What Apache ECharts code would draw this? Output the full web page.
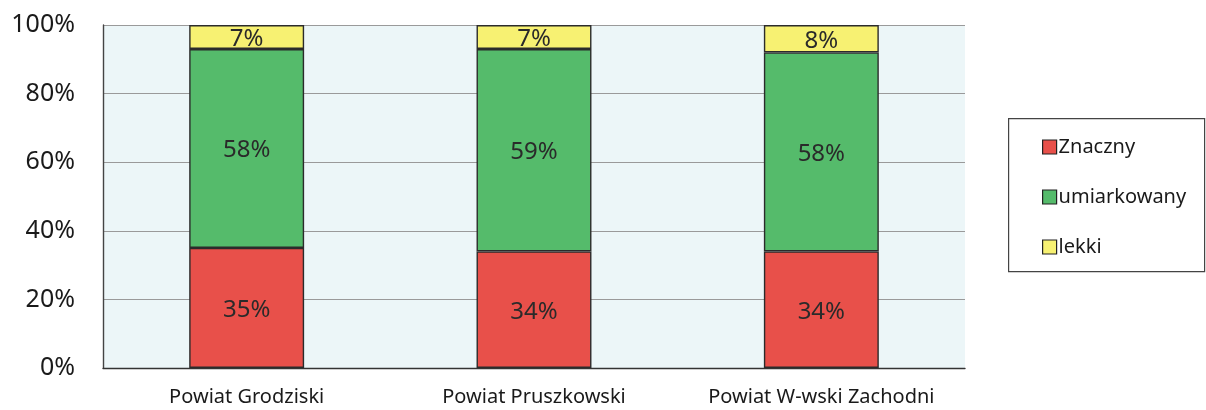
<!DOCTYPE html>
<html>
<head>
<meta charset="utf-8">
<script src="https://cdn.jsdelivr.net/npm/echarts@6/dist/echarts.min.js"></script>
<style>
html,body{margin:0;padding:0;background:#fff;}
#c{width:1206px;height:410px;}
</style>
</head>
<body>
<div id="c"></div>
<script>
const categories = ['Powiat Grodziski', 'Powiat Pruszkowski', 'Powiat W-wski Zachodni'];
const znaczny = [35, 34, 34];
const umiarkowany = [58, 59, 58];
const lekki = [7, 7, 8];
const yTicks = ['0%', '20%', '40%', '60%', '80%', '100%'];

const FONT = '"Noto Sans", "Open Sans", sans-serif';
const chart = echarts.init(document.getElementById('c'), null, {renderer: 'canvas'});

function series(name, data, color) {
  return {
    name: name, type: 'bar', stack: 'total', data: data, barWidth: '40%',
    itemStyle: {color: color, borderColor: '#2b2b2b', borderWidth: 1.4},
    label: {show: true, position: 'inside', formatter: '{c}%', fontFamily: FONT, fontSize: 24, color: '#2a2a2a', offset: [0, 2]}
  };
}

chart.setOption({
  backgroundColor: '#ffffff',
  animation: false,
  grid: {left: 103, right: 241, top: 25, bottom: 42, show: true, backgroundColor: '#ecf6f8', borderWidth: 0},
  graphic: [{
    type: 'rect', left: 1008, top: 118,
    shape: {width: 196, height: 153},
    style: {fill: '#fff', stroke: '#444', lineWidth: 1.2}, z: 0
  }],
  legend: {
    orient: 'vertical', left: 1037, top: 132,
    itemWidth: 14, itemHeight: 14, itemGap: 30,
    icon: 'rect',
    itemStyle: {borderColor: '#222', borderWidth: 1.2},
    textStyle: {fontFamily: FONT, fontSize: 20, color: '#1a1a1a', lineHeight: 20, padding: [0,0,0,-3]},
    data: ['Znaczny', 'umiarkowany', 'lekki'], z: 5
  },
  xAxis: {
    type: 'category', data: categories,
    axisLine: {lineStyle: {color: '#333', width: 1.4}},
    axisTick: {show: false},
    axisLabel: {interval: 0, fontFamily: FONT, fontSize: 20, color: '#1a1a1a', margin: 19}
  },
  yAxis: {
    type: 'value', min: 0, max: 100, interval: 20,
    axisLine: {show: true, lineStyle: {color: '#444', width: 1.4}},
    axisTick: {show: false},
    splitLine: {lineStyle: {color: '#9a9a9a', width: 1}},
    axisLabel: {fontFamily: FONT, fontSize: 25, color: '#1a1a1a', margin: 28,
      formatter: function (v) { return yTicks[Math.round(v / 20)]; }}
  },
  series: [
    series('Znaczny', znaczny, '#e8504a'),
    series('umiarkowany', umiarkowany, '#55bb6b'),
    series('lekki', lekki, '#f7f172')
  ]
});
</script>
</body>
</html>
